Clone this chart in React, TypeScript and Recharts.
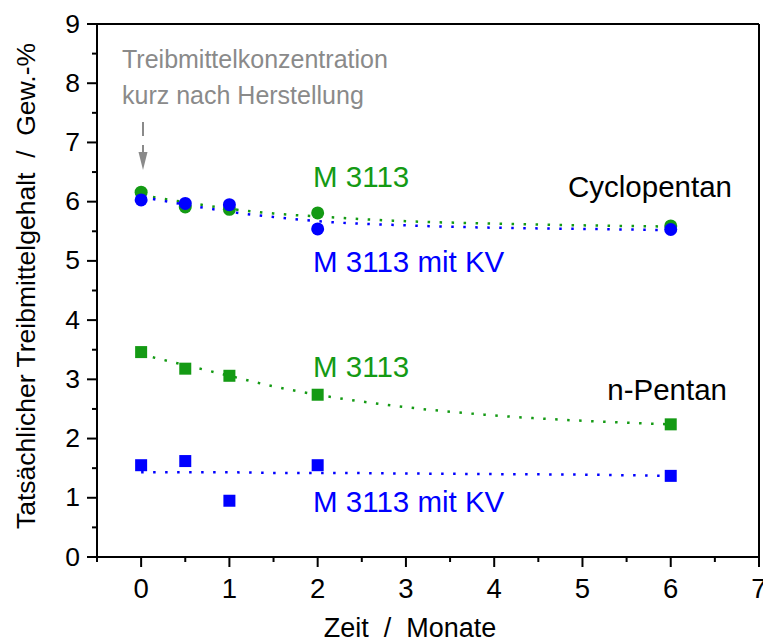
import React from "react";
import {
  ComposedChart,
  Line,
  Scatter,
  XAxis,
  YAxis,
  ReferenceLine,
} from "recharts";

// Messwerte (Zeit in Monaten)
const zeitCyclo = [0, 0.5, 1, 2, 6];
const cycloM3113 = [6.16, 5.91, 5.87, 5.81, 5.59];
const cycloM3113KV = [6.03, 5.97, 5.95, 5.54, 5.53];

const zeitPentan = [0, 0.5, 1, 2, 6];
const pentanM3113 = [3.46, 3.18, 3.06, 2.74, 2.24];
const pentanM3113KV = [1.55, 1.62, 0.95, 1.55, 1.37];

// Fitkurven
const zeitFit = [0, 0.5, 1, 1.5, 2, 3, 4, 5, 6];
const fitCycloM3113 = [6.11, 5.99, 5.88, 5.8, 5.75, 5.67, 5.63, 5.6, 5.58];
const fitCycloM3113KV = [6.08, 5.95, 5.83, 5.74, 5.67, 5.6, 5.56, 5.54, 5.52];
const fitPentanM3113 = [3.42, 3.24, 3.06, 2.88, 2.74, 2.53, 2.39, 2.3, 2.24];
const fitPentanM3113KV = [1.43, 1.43, 1.43, 1.42, 1.42, 1.41, 1.4, 1.39, 1.37];

const xTicks = [-0.5, 0, 0.5, 1, 1.5, 2, 2.5, 3, 3.5, 4, 4.5, 5, 5.5, 6, 6.5, 7];
const yTicks = [0, 0.5, 1, 1.5, 2, 2.5, 3, 3.5, 4, 4.5, 5, 5.5, 6, 6.5, 7, 7.5, 8, 8.5, 9];

const GRUEN = "#149a14";
const BLAU = "#0000ff";
const GRAU = "#8a8a8a";
const FONT = "'Liberation Sans', Arial, sans-serif";

const toPoints = (xs: number[], ys: number[]) => xs.map((x, i) => ({ x, y: ys[i] }));

const XTick = (props: any) => {
  const { x, y, payload } = props;
  const major = Number.isInteger(payload.value);
  return (
    <g>
      <line x1={x} x2={x} y1={y} y2={y + (major ? 10 : 5)} stroke="#000" strokeWidth={2} />
      {major && (
        <text x={x} y={y + 41} textAnchor="middle" fontSize={27.5} fontFamily={FONT} fill="#000">
          {payload.value}
        </text>
      )}
    </g>
  );
};

const YTick = (props: any) => {
  const { x, y, payload } = props;
  const major = Number.isInteger(payload.value);
  return (
    <g>
      <line x1={x - (major ? 10 : 5)} x2={x} y1={y} y2={y} stroke="#000" strokeWidth={2} />
      {major && (
        <text x={x - 17} y={y + 8.5} textAnchor="end" fontSize={26.5} fontFamily={FONT} fill="#000">
          {payload.value}
        </text>
      )}
    </g>
  );
};

const Kreis = (farbe: string) => (p: any) => <circle cx={p.cx} cy={p.cy} r={6.5} fill={farbe} />;
const Quadrat = (farbe: string) => (p: any) => (
  <rect x={p.cx - 6} y={p.cy - 6} width={12} height={12} fill={farbe} />
);

const yTitel = () => (
  <text
    x={26}
    y={286}
    transform="rotate(-90 26 286)"
    textAnchor="middle"
    dominantBaseline="central"
    fontSize={26.5}
    fontFamily={FONT}
    fill="#000"
    style={{ whiteSpace: "pre" }}
  >
    {"Tatsächlicher Treibmittelgehalt  /  Gew.-%"}
  </text>
);

const xTitel = () => (
  <text
    x={410}
    y={637}
    textAnchor="middle"
    fontSize={27}
    fontFamily={FONT}
    fill="#000"
    style={{ whiteSpace: "pre" }}
  >
    {"Zeit  /  Monate"}
  </text>
);

const fitStil = { strokeWidth: 2.5, strokeDasharray: "2.5 9.5", dot: false, isAnimationActive: false };

export default function App() {
  return (
    <div style={{ position: "absolute", left: 0, top: 0, width: 763, height: 641, background: "#fff" }}>
      <ComposedChart width={763} height={641} margin={{ top: 24, right: 4, bottom: 0, left: 0 }}>
        <XAxis
          type="number"
          dataKey="x"
          domain={[-0.5, 7]}
          ticks={xTicks}
          interval={0}
          tickSize={0}
          tickMargin={0}
          tickLine={false}
          tick={XTick}
          height={84}
          axisLine={{ stroke: "#000", strokeWidth: 2 }}
          allowDataOverflow
          label={xTitel}
        />
        <YAxis
          type="number"
          dataKey="y"
          domain={[0, 9]}
          ticks={yTicks}
          interval={0}
          tickSize={0}
          tickMargin={0}
          tickLine={false}
          tick={YTick}
          width={97}
          axisLine={{ stroke: "#000", strokeWidth: 2 }}
          allowDataOverflow
          label={yTitel}
        />
        <ReferenceLine y={9} stroke="#000" strokeWidth={2} />
        <ReferenceLine x={7} stroke="#000" strokeWidth={2} />

        <Line data={toPoints(zeitFit, fitCycloM3113)} dataKey="y" type="monotone" stroke={GRUEN} {...fitStil} />
        <Line data={toPoints(zeitFit, fitCycloM3113KV)} dataKey="y" type="monotone" stroke={BLAU} {...fitStil} />
        <Line data={toPoints(zeitFit, fitPentanM3113)} dataKey="y" type="monotone" stroke={GRUEN} {...fitStil} />
        <Line data={toPoints(zeitFit, fitPentanM3113KV)} dataKey="y" type="monotone" stroke={BLAU} {...fitStil} />

        <Scatter data={toPoints(zeitCyclo, cycloM3113)} dataKey="y" shape={Kreis(GRUEN)} isAnimationActive={false} />
        <Scatter data={toPoints(zeitCyclo, cycloM3113KV)} dataKey="y" shape={Kreis(BLAU)} isAnimationActive={false} />
        <Scatter data={toPoints(zeitPentan, pentanM3113)} dataKey="y" shape={Quadrat(GRUEN)} isAnimationActive={false} />
        <Scatter data={toPoints(zeitPentan, pentanM3113KV)} dataKey="y" shape={Quadrat(BLAU)} isAnimationActive={false} />
      </ComposedChart>

      <svg
        width={763}
        height={641}
        style={{ position: "absolute", left: 0, top: 0, pointerEvents: "none" }}
        fontFamily={FONT}
      >
        <text x={122} y={68} fontSize={25} fill={GRAU}>Treibmittelkonzentration</text>
        <text x={122} y={104} fontSize={25} fill={GRAU}>kurz nach Herstellung</text>
        <line x1={143} x2={143} y1={122} y2={154} stroke={GRAU} strokeWidth={2} strokeDasharray="14 9" />
        <polygon points="138.5,152 147.5,152 143,170" fill={GRAU} />

        <text x={313} y={187} fontSize={29.5} fill={GRUEN}>M 3113</text>
        <text x={313} y={272} fontSize={29.5} fill={BLAU}>M 3113 mit KV</text>
        <text x={732} y={197} fontSize={29.5} fill="#000" textAnchor="end">Cyclopentan</text>

        <text x={313} y={377} fontSize={29.5} fill={GRUEN}>M 3113</text>
        <text x={313} y={512} fontSize={29.5} fill={BLAU}>M 3113 mit KV</text>
        <text x={727} y={400} fontSize={29.5} fill="#000" textAnchor="end">n-Pentan</text>
      </svg>
    </div>
  );
}
